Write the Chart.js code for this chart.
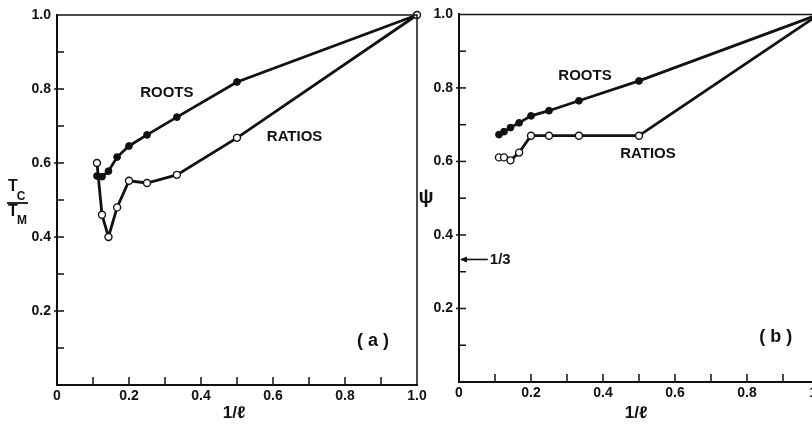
<!DOCTYPE html>
<html>
<head>
<meta charset="utf-8">
<script src="https://cdn.jsdelivr.net/npm/chart.js@4"></script>
<style>
  html, body { margin: 0; padding: 0; background: #fff; overflow: hidden; width: 812px; height: 425px; }
  .panel { position: absolute; top: 0; width: 440px; height: 425px; }
  #wrapA { left: 0; }
  #wrapB { left: 400px; }
</style>
</head>
<body>
<div class="panel" id="wrapA"><canvas id="chartA" width="440" height="425"></canvas></div>
<div class="panel" id="wrapB"><canvas id="chartB" width="440" height="425"></canvas></div>
<script>
// x = 1/l for l = 9 ... 1
const invL = [0.111, 0.125, 0.143, 0.167, 0.2, 0.25, 0.333, 0.5, 1.0];

// panel (a): Tc/Tm
const rootsA  = [0.565, 0.563, 0.578, 0.616, 0.646, 0.676, 0.724, 0.819, 1.0];
const ratiosA = [0.600, 0.460, 0.400, 0.480, 0.552, 0.546, 0.568, 0.668, 1.0];

// panel (b): psi
const rootsB  = [0.673, 0.681, 0.692, 0.705, 0.724, 0.738, 0.765, 0.819, 1.0];
const ratiosB = [0.611, 0.611, 0.603, 0.624, 0.670, 0.670, 0.670, 0.670, 1.0];

const xTicks = ['0', '0.2', '0.4', '0.6', '0.8', '1.0'];
const yTicks = ['0.2', '0.4', '0.6', '0.8', '1.0'];

const INK = '#111';
const FONT = "'Liberation Sans', Arial, sans-serif";

function pts(ys) {
    return invL.map((x, i) => ({ x: x, y: ys[i] }));
}

function tickText(list) {
    return function(value) {
        const s = value === 0 ? '0' : value.toFixed(1);
        return list.includes(s) ? s : '';
    };
}

function makePanel(id, roots, ratios, layout, notes) {
    const frame = {
        id: 'frame_' + id,
        afterDatasetsDraw(chart) {
            const { ctx, chartArea: a, scales: { x, y } } = chart;
            ctx.save();
            ctx.strokeStyle = INK;
            ctx.lineWidth = 1.5;
            ctx.beginPath();
            ctx.moveTo(a.left, a.top);
            ctx.lineTo(a.right, a.top);
            ctx.lineTo(a.right, a.bottom);
            ctx.stroke();
            // inward tick marks
            x.ticks.forEach(t => {
                if (t.value <= 0.001 || t.value >= 0.999) return;
                const px = x.getPixelForValue(t.value);
                ctx.beginPath();
                ctx.moveTo(px, a.bottom);
                ctx.lineTo(px, a.bottom - 8);
                ctx.stroke();
            });
            y.ticks.forEach(t => {
                if (t.value <= 0.001 || t.value >= 0.999) return;
                const py = y.getPixelForValue(t.value);
                const major = Math.round(t.value * 10) % 2 === 0;
                ctx.beginPath();
                ctx.moveTo(a.left - (major ? 3 : 0), py);
                ctx.lineTo(a.left + 7, py);
                ctx.stroke();
            });
            ctx.restore();
        },
        afterDraw(chart) {
            notes(chart);
        }
    };

    return new Chart(document.getElementById(id), {
        type: 'line',
        data: {
            datasets: [{
                label: 'RATIOS',
                data: pts(ratios),
                borderColor: INK,
                borderWidth: 2.8,
                pointRadius: 3.5,
                pointBackgroundColor: '#fff',
                pointBorderColor: INK,
                pointBorderWidth: 1.4,
                clip: false
            }, {
                label: 'ROOTS',
                data: pts(roots),
                borderColor: INK,
                borderWidth: 2.8,
                pointRadius: 3.4,
                pointBackgroundColor: INK,
                pointBorderColor: INK,
                pointBorderWidth: 1,
                clip: false
            }]
        },
        options: {
            responsive: false,
            animation: false,
            layout: { padding: layout.padding },
            plugins: {
                legend: { display: false },
                tooltip: { enabled: false }
            },
            scales: {
                x: {
                    type: 'linear',
                    min: 0,
                    max: 1,
                    grid: { display: false, drawTicks: false },
                    border: { display: true, color: INK, width: 2 },
                    ticks: {
                        stepSize: 0.1,
                        autoSkip: false,
                        maxRotation: 0,
                        padding: 3,
                        color: INK,
                        font: { family: FONT, size: 14, weight: 'bold' },
                        callback: tickText(xTicks)
                    },
                    afterFit(scale) { scale.height = layout.xHeight; }
                },
                y: {
                    type: 'linear',
                    min: 0,
                    max: 1,
                    grid: { display: false, drawTicks: false },
                    border: { display: true, color: INK, width: 2 },
                    ticks: {
                        stepSize: 0.1,
                        autoSkip: false,
                        padding: 6,
                        color: INK,
                        font: { family: FONT, size: 14, weight: 'bold' },
                        callback: tickText(yTicks)
                    },
                    afterFit(scale) { scale.width = layout.yWidth; }
                }
            }
        },
        plugins: [frame]
    });
}

function text(ctx, s, px, py, size, align) {
    ctx.font = size + 'px ' + FONT;
    ctx.textAlign = align || 'center';
    ctx.textBaseline = 'middle';
    ctx.fillText(s, px, py);
}

function noteAt(chart, s, vx, vy, size) {
    const { x, y } = chart.scales;
    text(chart.ctx, s, x.getPixelForValue(vx), y.getPixelForValue(vy), size);
}

function xTitle(chart) {
    const { ctx, chartArea: a } = chart;
    text(ctx, '1/ℓ', (a.left + a.right) / 2 - 3, 413, 'bold 17');
}

makePanel('chartA', rootsA, ratiosA,
    { padding: { top: 15, right: 23, left: 0, bottom: 0 }, xHeight: 40, yWidth: 57 },
    function(chart) {
        const ctx = chart.ctx;
        ctx.save();
        ctx.fillStyle = INK;
        noteAt(chart, 'ROOTS', 0.305, 0.79, 'bold 15');
        noteAt(chart, 'RATIOS', 0.66, 0.67, 'bold 15');
        noteAt(chart, '( a )', 0.878, 0.118, 'bold 18');
        xTitle(chart);
        // Tc / Tm fraction title
        text(ctx, 'T', 13, 187, 'bold 16');
        text(ctx, 'C', 21, 197, 'bold 12');
        ctx.strokeStyle = INK;
        ctx.lineWidth = 1.8;
        ctx.beginPath();
        ctx.moveTo(7, 203);
        ctx.lineTo(28, 203);
        ctx.stroke();
        text(ctx, 'T', 13, 212, 'bold 16');
        text(ctx, 'M', 22, 221, 'bold 12');
        ctx.restore();
    });

makePanel('chartB', rootsB, ratiosB,
    { padding: { top: 12, right: 21, left: 0, bottom: 0 }, xHeight: 43, yWidth: 59 },
    function(chart) {
        const { ctx, scales: { x, y } } = chart;
        ctx.save();
        ctx.fillStyle = INK;
        ctx.strokeStyle = INK;
        noteAt(chart, 'ROOTS', 0.35, 0.832, 'bold 15');
        noteAt(chart, 'RATIOS', 0.525, 0.62, 'bold 15');
        noteAt(chart, '( b )', 0.88, 0.122, 'bold 18');
        xTitle(chart);
        text(ctx, 'ψ', 26, 197, 'bold 20');
        // 1/3 arrow
        const ax = x.getPixelForValue(0), ay = y.getPixelForValue(1 / 3);
        const bx = x.getPixelForValue(0.08);
        ctx.lineWidth = 1.6;
        ctx.beginPath();
        ctx.moveTo(ax + 2, ay);
        ctx.lineTo(bx, ay);
        ctx.stroke();
        ctx.beginPath();
        ctx.moveTo(ax + 1, ay);
        ctx.lineTo(ax + 8, ay - 3);
        ctx.lineTo(ax + 8, ay + 3);
        ctx.closePath();
        ctx.fill();
        text(ctx, '1/3', bx + 2, ay, 'bold 15', 'left');
        ctx.restore();
    });
</script>
</body>
</html>
